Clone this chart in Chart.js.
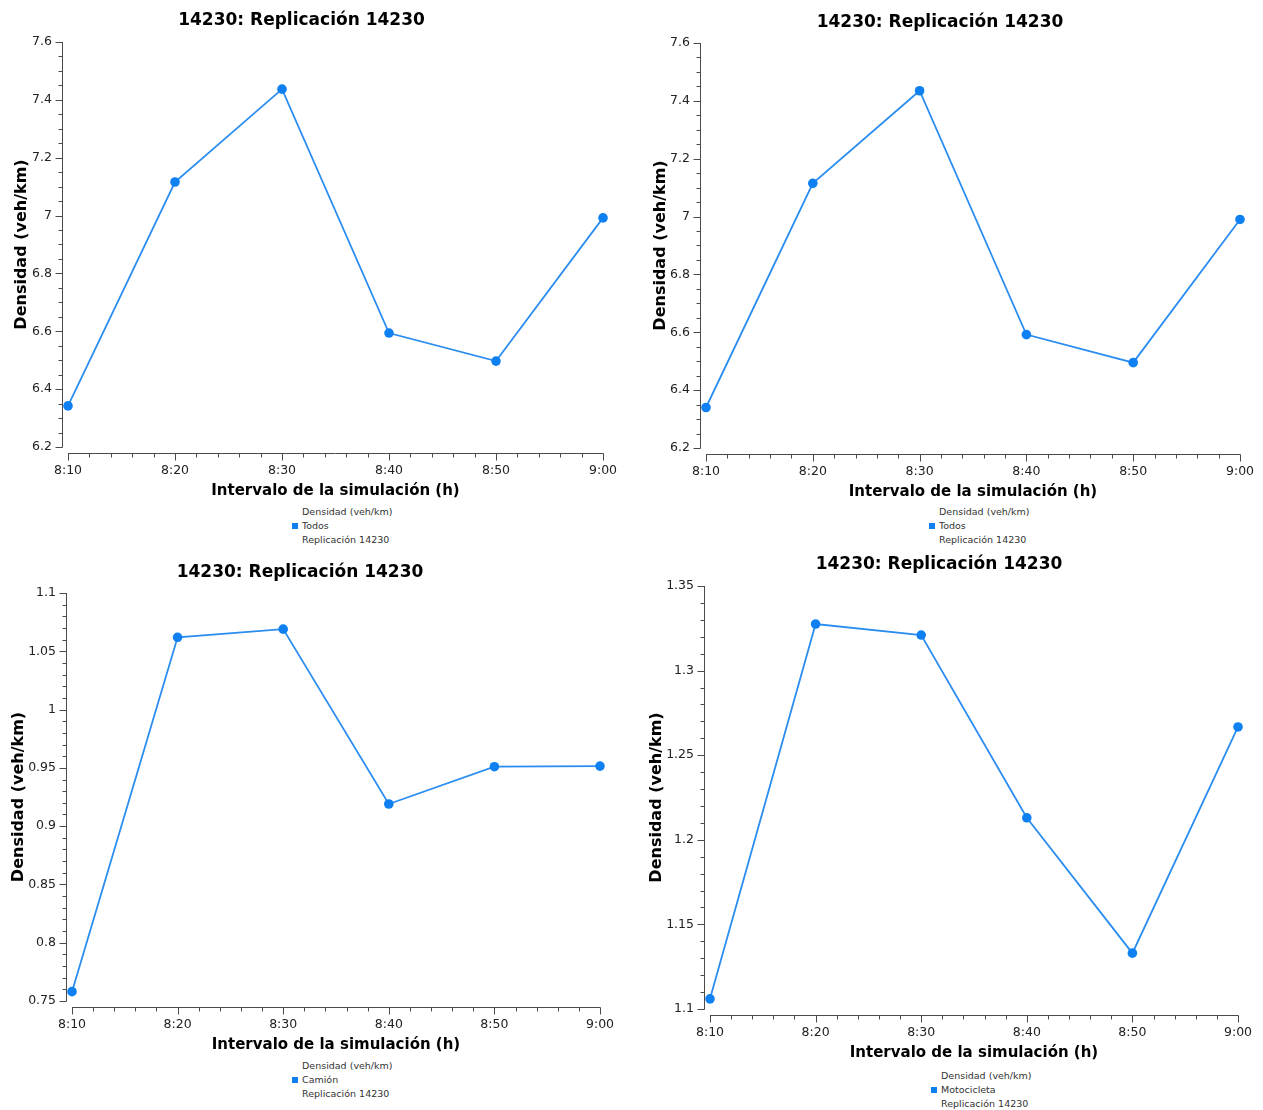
<!DOCTYPE html>
<html lang="es">
<head>
<meta charset="utf-8">
<title>Densidad (veh/km) - Replicación 14230</title>
<script src="https://cdn.jsdelivr.net/npm/chart.js@4.4.1/dist/chart.umd.min.js"></script>
<style>
  html, body { margin: 0; padding: 0; background: #fff; }
  body { position: relative; width: 1263px; height: 1110px; overflow: hidden; font-family: 'DejaVu Sans', sans-serif; }
  .panel { position: absolute; }
  .legend { position: absolute; font-size: 9.5px; line-height: 14px; color: #333; white-space: nowrap; }
  .legend .sw { position: absolute; left: -10px; top: 18px; width: 6px; height: 6px; }
</style>
</head>
<body>
<script>
// intervalos (minutos después de las 8:00) y etiquetas del eje x
const minutes = [10, 20, 30, 40, 50, 60];
const timeLabels = ['8:10', '8:20', '8:30', '8:40', '8:50', '9:00'];

// densidad (veh/km) por intervalo
const todosA = [6.342, 7.116, 7.437, 6.594, 6.497, 6.992];
const todosB = [6.340, 7.115, 7.435, 6.592, 6.495, 6.990];
const camion = [0.758, 1.062, 1.069, 0.919, 0.951, 0.9515];
const motocicleta = [1.106, 1.3275, 1.321, 1.213, 1.133, 1.2667];

const chartTitle = '14230: Replicación 14230';
const xTitle = 'Intervalo de la simulación (h)';
const yTitle = 'Densidad (veh/km)';
const legendHeader = 'Densidad (veh/km)';
const legendFooter = 'Replicación 14230';

const lineColor = '#2b8df0';
const pointColor = '#0f80f2';
const axisColor = '#4a4a4a';

const panels = [
    { left: 0, top: 0, width: 682, height: 502, data: todosA, name: 'Todos',
      yMin: 6.2, yMax: 7.6, yStep: 0.2, yMinor: 0.05,
      titlePad: { top: 10.5, bottom: 11.1 }, yAxisW: 68, yTitlePad: 11.9, padRight: 79, legend: [302, 504.5] },
    { left: 640, top: 0, width: 678, height: 503, data: todosB, name: 'Todos',
      yMin: 6.2, yMax: 7.6, yStep: 0.2, yMinor: 0.05,
      titlePad: { top: 12.5, bottom: 10.1 }, yAxisW: 66, yTitlePad: 10.9, padRight: 78, legend: [939, 505] },
    { left: 0, top: 550, width: 682, height: 506, data: camion, name: 'Camión',
      yMin: 0.75, yMax: 1.1, yStep: 0.05, yMinor: 0.01,
      titlePad: { top: 12.5, bottom: 10.1 }, yAxisW: 72, yTitlePad: 8.9, padRight: 82, legend: [302, 1059] },
    { left: 640, top: 550, width: 678, height: 514, data: motocicleta, name: 'Motocicleta',
      yMin: 1.1, yMax: 1.35, yStep: 0.05, yMinor: 0.01,
      titlePad: { top: 4.5, bottom: 11.1 }, yAxisW: 70, yTitlePad: 6.9, padRight: 80, legend: [941, 1068.7] }
];

function minorValues(min, max, step) {
    const out = [];
    const n = Math.round((max - min) / step);
    for (let i = 0; i <= n; i++) out.push(min + i * step);
    return out;
}

// ejes separados del área de trazado, con marcas mayores y menores
const offsetAxes = {
    id: 'offsetAxes',
    beforeDatasetsDraw(chart, args, opts) {
        const { ctx, chartArea, scales: { x, y } } = chart;
        const gap = 6;
        const ax = Math.round(chartArea.left - gap) + 0.5;
        const ay = Math.round(chartArea.bottom + gap) + 0.5;
        ctx.save();
        ctx.strokeStyle = axisColor;
        ctx.lineWidth = 1;
        ctx.beginPath();
        ctx.moveTo(ax, y.getPixelForValue(y.max));
        ctx.lineTo(ax, y.getPixelForValue(y.min));
        ctx.moveTo(x.getPixelForValue(x.min), ay);
        ctx.lineTo(x.getPixelForValue(x.max), ay);
        minorValues(y.min, y.max, opts.yMinor).forEach(v => {
            const py = Math.round(y.getPixelForValue(v)) + 0.5;
            ctx.moveTo(ax - 4, py); ctx.lineTo(ax, py);
        });
        y.ticks.forEach(t => {
            const py = Math.round(y.getPixelForValue(t.value)) + 0.5;
            ctx.moveTo(ax - 7, py); ctx.lineTo(ax, py);
        });
        minorValues(x.min, x.max, opts.xMinor).forEach(v => {
            const px = Math.round(x.getPixelForValue(v)) + 0.5;
            ctx.moveTo(px, ay); ctx.lineTo(px, ay + 4);
        });
        x.ticks.forEach(t => {
            const px = Math.round(x.getPixelForValue(t.value)) + 0.5;
            ctx.moveTo(px, ay); ctx.lineTo(px, ay + 7);
        });
        ctx.stroke();
        ctx.restore();
    }
};

function fmt(v) {
    return String(Number(v.toFixed(2)));
}

function makePanel(p) {
    const box = document.createElement('div');
    box.className = 'panel';
    box.style.left = p.left + 'px';
    box.style.top = p.top + 'px';
    box.style.width = p.width + 'px';
    box.style.height = p.height + 'px';
    const canvas = document.createElement('canvas');
    box.appendChild(canvas);
    document.body.appendChild(box);

    new Chart(canvas.getContext('2d'), {
        type: 'line',
        data: {
            datasets: [{
                label: p.name,
                data: minutes.map((m, i) => ({ x: m, y: p.data[i] })),
                borderColor: lineColor,
                borderWidth: 1.8,
                backgroundColor: pointColor,
                pointBackgroundColor: pointColor,
                pointBorderWidth: 0,
                pointRadius: 4.8,
                tension: 0,
                clip: false
            }]
        },
        options: {
            responsive: true,
            maintainAspectRatio: false,
            animation: false,
            layout: { padding: { left: 0, right: p.padRight, top: 0, bottom: 0 } },
            plugins: {
                legend: { display: false },
                tooltip: { enabled: false },
                title: {
                    display: true,
                    text: chartTitle,
                    color: '#000',
                    font: { family: 'DejaVu Sans', size: 17, weight: 'bold' },
                    padding: p.titlePad
                },
                offsetAxes: { yMinor: p.yMinor, xMinor: 2 }
            },
            scales: {
                x: {
                    type: 'linear',
                    min: minutes[0],
                    max: minutes[minutes.length - 1],
                    grid: { display: false, drawTicks: false },
                    border: { display: false },
                    ticks: {
                        stepSize: 10,
                        padding: 16.5,
                        maxRotation: 0,
                        color: '#222',
                        font: { family: 'DejaVu Sans', size: 12.5 },
                        callback: v => timeLabels[minutes.indexOf(v)] ?? ''
                    },
                    title: {
                        display: true,
                        text: xTitle,
                        color: '#000',
                        font: { family: 'DejaVu Sans', size: 15, weight: 'bold' },
                        padding: { top: 6, bottom: 2 }
                    },
                    afterFit: s => { s.height = 55; }
                },
                y: {
                    min: p.yMin,
                    max: p.yMax,
                    grid: { display: false, drawTicks: false },
                    border: { display: false },
                    ticks: {
                        stepSize: p.yStep,
                        padding: 16,
                        color: '#222',
                        font: { family: 'DejaVu Sans', size: 12.5 },
                        callback: v => fmt(v)
                    },
                    title: {
                        display: true,
                        text: yTitle,
                        color: '#000',
                        font: { family: 'DejaVu Sans', size: 16, weight: 'bold' },
                        padding: { top: p.yTitlePad, bottom: 0 }
                    },
                    afterFit: s => { s.width = p.yAxisW; }
                }
            }
        },
        plugins: [offsetAxes]
    });

    const lg = document.createElement('div');
    lg.className = 'legend';
    lg.style.left = p.legend[0] + 'px';
    lg.style.top = p.legend[1] + 'px';
    const sw = document.createElement('span');
    sw.className = 'sw';
    sw.style.background = pointColor;
    lg.appendChild(sw);
    [legendHeader, p.name, legendFooter].forEach(t => {
        const row = document.createElement('div');
        row.textContent = t;
        lg.appendChild(row);
    });
    document.body.appendChild(lg);
}

panels.forEach(makePanel);
</script>
</body>
</html>
